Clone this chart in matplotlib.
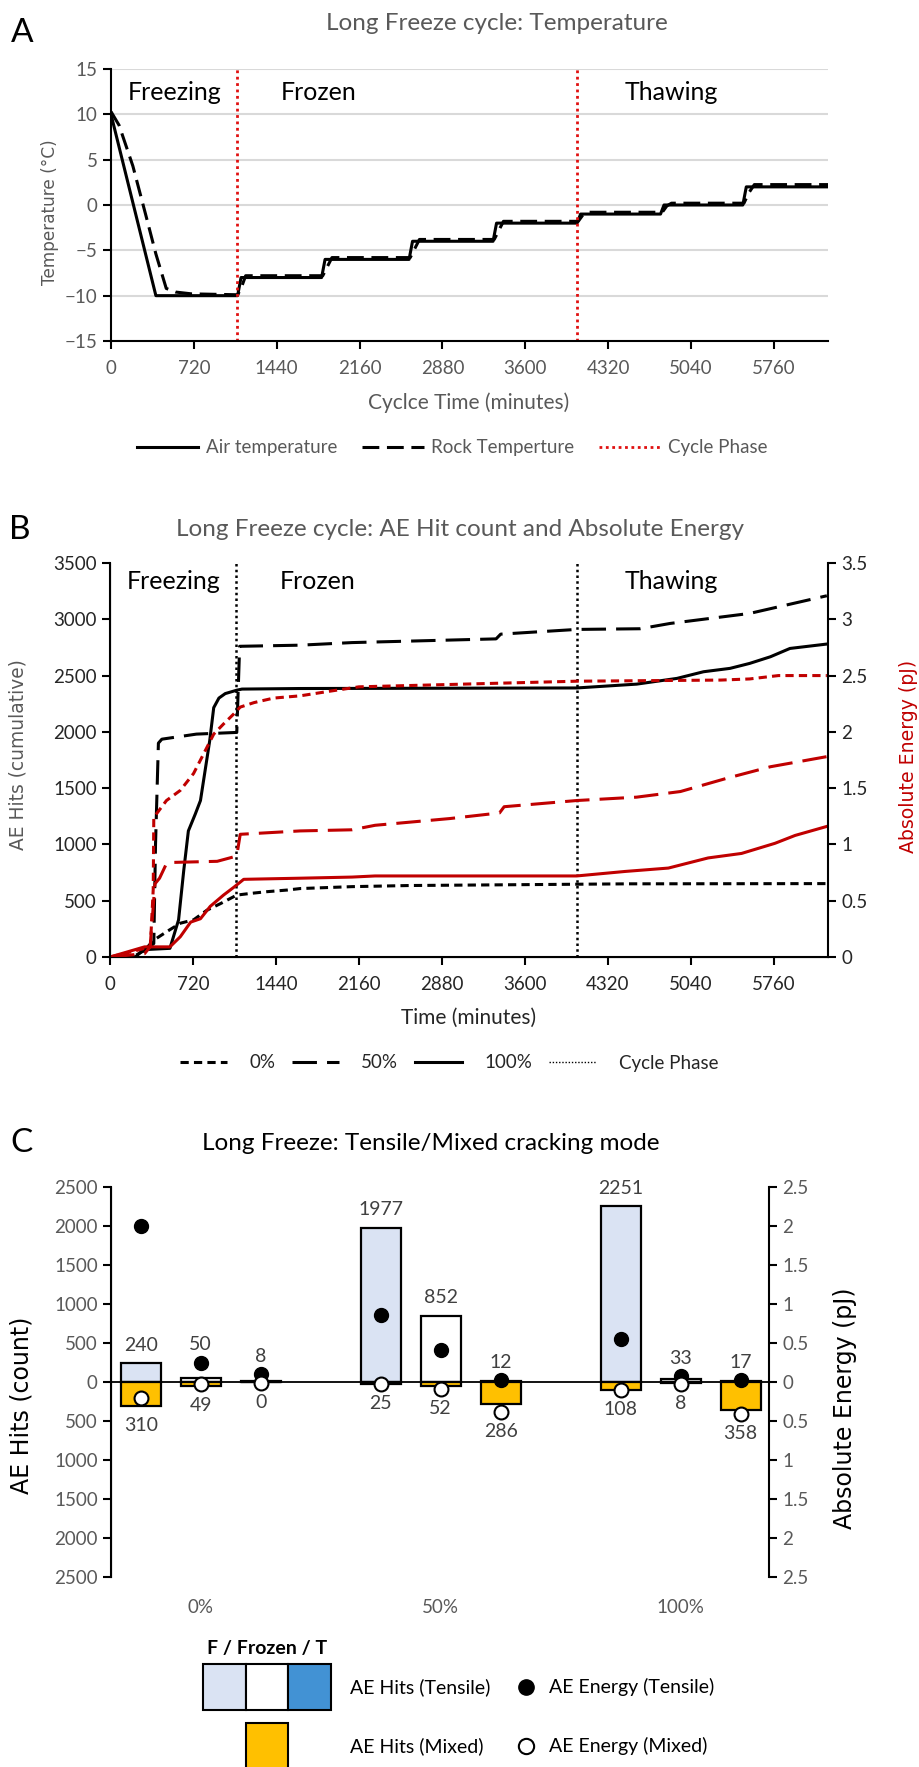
import numpy as np
import matplotlib
matplotlib.use('Agg')
import matplotlib.pyplot as plt
from matplotlib.patches import Rectangle
from matplotlib.lines import Line2D
from matplotlib.ticker import FuncFormatter

plt.rcParams['font.family'] = ['Lato', 'DejaVu Sans']
WIDE = ['DejaVu Sans']
GREY = '#595959'
RED = '#C00000'

# ---------------- panel A: temperature ----------------
air_t = [0, 390, 1100, 1130, 1830, 1860, 2590, 2620, 3320, 3350, 4050, 4080, 4775, 4805, 5490, 5520, 6230]
air_T = [10, -10, -10, -8, -8, -6, -6, -4, -4, -2, -2, -1, -1, 0, 0, 2, 2]
rock_t = [0, 70, 190, 300, 390, 480, 560, 700, 1100, 1130, 1170, 1840, 1880, 1920, 2600, 2640, 2680,
          3330, 3370, 3410, 4060, 4100, 4140, 4790, 4830, 4870, 5500, 5540, 5590, 6230]
rock_T = [10.3, 8.8, 4.3, -1.0, -5.4, -9.2, -9.6, -9.8, -9.9, -9.2, -7.8, -7.8, -6.8, -5.8, -5.8, -4.8, -3.8,
          -3.8, -2.8, -1.8, -1.8, -1.1, -0.8, -0.8, -0.1, 0.2, 0.2, 1.3, 2.25, 2.25]
phase_t = [1095, 4050]
phase_names = ['Freezing', 'Frozen', 'Thawing']
phase_text_t = [556, 1800, 4870]

# ---------------- panel B: AE hits / energy ----------------
hits0_t = [0, 200, 300, 380, 500, 610, 725, 840, 960, 1100, 1220, 1360, 1540, 1650, 2100, 2600, 3500, 4500, 6220]
hits0 = [0, 0, 60, 150, 230, 300, 330, 415, 475, 550, 565, 580, 595, 608, 625, 635, 642, 650, 652]
hits50_t = [0, 250, 380, 395, 420, 450, 750, 1100, 1125, 1650, 2100, 3350, 3390, 4050, 4600, 4860, 5550, 6220]
hits50 = [0, 10, 120, 1000, 1900, 1935, 1980, 1995, 2760, 2770, 2793, 2826, 2868, 2910, 2916, 2963, 3052, 3209]
hits100_t = [0, 220, 290, 520, 595, 640, 680, 740, 785, 825, 865, 900, 945, 1000, 1100, 1145, 1650, 4050,
             4570, 4920, 5150, 5380, 5550, 5730, 5900, 6220]
hits100 = [0, 0, 65, 77, 330, 770, 1120, 1270, 1390, 1655, 1920, 2215, 2300, 2340, 2370, 2380, 2385, 2390,
           2424, 2475, 2534, 2564, 2608, 2667, 2741, 2780]
en0_t = [0, 200, 350, 375, 380, 490, 610, 725, 810, 900, 985, 1075, 1130, 1250, 1420, 1650, 1900, 2160,
         4050, 5300, 5550, 5800, 6220]
en0 = [0, 0.05, 0.09, 0.6, 1.24, 1.39, 1.48, 1.63, 1.80, 1.98, 2.07, 2.16, 2.22, 2.26, 2.30, 2.32, 2.36, 2.40,
       2.45, 2.46, 2.47, 2.50, 2.50]
en50_t = [0, 300, 348, 390, 430, 490, 536, 930, 1075, 1100, 1130, 1650, 2100, 2300, 2950, 3380, 3420, 4050,
          4570, 4950, 5360, 5730, 6220]
en50 = [0, 0.03, 0.09, 0.65, 0.7, 0.83, 0.84, 0.85, 0.89, 0.9, 1.09, 1.12, 1.13, 1.17, 1.23, 1.28, 1.335, 1.39,
        1.42, 1.47, 1.59, 1.69, 1.78]
en100_t = [0, 100, 300, 520, 610, 700, 785, 870, 985, 1075, 1160, 1650, 2100, 2300, 4050, 4470, 4845, 5190,
           5480, 5770, 5945, 6220]
en100 = [0, 0.03, 0.09, 0.09, 0.18, 0.31, 0.34, 0.45, 0.55, 0.62, 0.69, 0.70, 0.71, 0.72, 0.72, 0.76, 0.79, 0.88,
         0.92, 1.01, 1.08, 1.16]

# ---------------- panel C: cracking mode ----------------
cats = ['0%', '50%', '100%']
phases = ['F', 'Frozen', 'T']
tens_hits = [[240, 50, 8], [1977, 852, 12], [2251, 33, 17]]
mixed_hits = [[310, 49, 0], [25, 52, 286], [108, 8, 358]]
tens_en = [[2.0, 0.25, 0.1], [0.855, 0.415, 0.02], [0.545, 0.075, 0.02]]
mixed_en = [[0.2, 0.03, 0.01], [0.03, 0.085, 0.385], [0.1, 0.02, 0.405]]
phase_cols = ['#DAE3F3', '#FFFFFF', '#4292D4']
mixed_col = '#FFC000'

W, H = 919, 1767
fig = plt.figure(figsize=(W / 100, H / 100), dpi=100)


def rect(l, t, r, b):
    return [l / W, 1 - b / H, (r - l) / W, (b - t) / H]


def ftext(x, y, s, **kw):
    fig.text(x / W, 1 - y / H, s, ha=kw.pop('ha', 'center'), va=kw.pop('va', 'center'), **kw)


def style(ax, col):
    for s in ['top', 'right']:
        ax.spines[s].set_visible(False)
    for s in ['left', 'bottom']:
        ax.spines[s].set_linewidth(1.5)
    ax.tick_params(direction='out', length=6, width=1.5, labelsize=13.5, labelcolor=col)


# ---- A ----
axA = fig.add_axes(rect(111, 69, 828, 341))
axA.plot(air_t, air_T, color='black', lw=2.2, label='Air temperature')
axA.plot(rock_t, rock_T, color='black', lw=2.2, dashes=(5.5, 2.5), label='Rock Temperture')
for k, t in enumerate(phase_t):
    axA.axvline(t, color='#E01010', lw=2, ls=(0, (1, 1.3)), label='Cycle Phase' if k == 0 else None)
axA.set_xlim(0, 6230)
axA.set_ylim(-15, 15)
axA.set_xticks(range(0, 6000, 720))
axA.set_yticks(range(-15, 16, 5))
axA.yaxis.grid(True, color='#D9D9D9', lw=1.5)
axA.set_axisbelow(True)
style(axA, GREY)
axA.tick_params(axis='x', pad=8)
for name, t in zip(phase_names, phase_text_t):
    axA.text(t, 12.4, name, fontsize=18, ha='center', va='center')
ftext(497, 24, 'Long Freeze cycle: Temperature', color=GREY, fontsize=17.5)
ftext(22, 33, 'A', fontsize=24)
ftext(469, 403, 'Cyclce Time (minutes)', color=GREY, fontsize=15)
ftext(50, 212, 'Temperature (°C)', color=GREY, fontsize=12.2, rotation=90, family=WIDE)
fig.legend(handles=axA.get_lines()[:3], loc='center', bbox_to_anchor=(452 / W, 1 - 448 / H), ncol=3,
           frameon=False, fontsize=13.5, handlelength=3.3, handletextpad=0.4, columnspacing=1.3, labelcolor=GREY)

# ---- B ----
axB = fig.add_axes(rect(110, 563, 828, 957))
axB2 = axB.twinx()
sd = dict(dashes=(2.7, 1.7))
ld = dict(dashes=(8, 3.3))
axB.plot(hits0_t, hits0, color='black', lw=2.2, **sd)
axB.plot(hits50_t, hits50, color='black', lw=2.2, **ld)
axB.plot(hits100_t, hits100, color='black', lw=2.2)
axB2.plot(en0_t, en0, color=RED, lw=2.2, **sd)
axB2.plot(en50_t, en50, color=RED, lw=2.2, **ld)
axB2.plot(en100_t, en100, color=RED, lw=2.2)
for t in phase_t:
    axB.axvline(t, color='black', lw=1.8, ls=(0, (1, 1.3)))
axB.set_xlim(0, 6230)
axB.set_ylim(0, 3500)
axB2.set_ylim(0, 3.5)
axB.set_xticks(range(0, 6000, 720))
axB.set_yticks(range(0, 3501, 500))
axB2.set_yticks(np.arange(0, 3.51, 0.5))
axB2.yaxis.set_major_formatter(FuncFormatter(lambda v, p: f'{v:g}'))
style(axB, '#262626')
axB.tick_params(axis='x', pad=8)
axB2.spines['top'].set_visible(False)
axB2.spines['right'].set_linewidth(1.5)
axB2.tick_params(direction='out', length=6, width=1.5, labelsize=13.5, labelcolor='#262626')
for name, t in zip(phase_names, phase_text_t):
    axB.text(t, 3340, name, fontsize=18, ha='center', va='center')
ftext(460, 530, 'Long Freeze cycle: AE Hit count and Absolute Energy', color=GREY, fontsize=17.5)
ftext(20, 530, 'B', fontsize=24)
ftext(469, 1018, 'Time (minutes)', color='#262626', fontsize=15)
ftext(18, 755, 'AE Hits (cumulative)', color=GREY, fontsize=13.4, rotation=90, family=WIDE)
ftext(909, 756, 'Absolute Energy (pJ)', color=RED, fontsize=13.6, rotation=90, family=WIDE)
legB = [Line2D([], [], color='black', lw=2.2, **sd), Line2D([], [], color='black', lw=2.2, **ld),
        Line2D([], [], color='black', lw=2.2), Line2D([], [], color='black', lw=1.0, ls=(0, (1, 1.3)))]
fig.legend(handles=legB, labels=['0%', '50%', '100%', 'Cycle Phase'], loc='center',
           bbox_to_anchor=(449 / W, 1 - 1063 / H), ncol=4, frameon=False, fontsize=13.5, handlelength=2.5,
           handletextpad=1.2, columnspacing=0.9, labelcolor='#262626')

# ---- C ----
axC = fig.add_axes(rect(111, 1187, 769, 1577))
axC2 = axC.twinx()
x = np.arange(len(cats))
offs = [-0.25, 0, 0.25]
bw = 0.167
th = np.array(tens_hits)
mh = np.array(mixed_hits)
te = np.array(tens_en)
me = np.array(mixed_en)
for j in range(3):
    axC.bar(x + offs[j], th[:, j], bw, color=phase_cols[j], edgecolor='black', lw=1.6)
    axC.bar(x + offs[j], -mh[:, j], bw, color=mixed_col, edgecolor='black', lw=1.6)
    axC2.plot(x + offs[j], te[:, j], 'o', color='black', ms=10)
    axC2.plot(x + offs[j], -me[:, j], 'o', mfc='white', mec='black', mew=1.5, ms=10)
    for i in range(3):
        top = th[i, j]
        if te[i, j] * 1000 - top < 500:
            top = max(top, te[i, j] * 1000)
        axC.annotate(str(th[i, j]), (x[i] + offs[j], top), xytext=(0, 13), textcoords='offset points',
                     ha='center', va='center', fontsize=14, color='#404040')
        bot = max(mh[i, j], me[i, j] * 1000)
        axC.annotate(str(mh[i, j]), (x[i] + offs[j], -bot), xytext=(0, -14), textcoords='offset points',
                     ha='center', va='center', fontsize=14, color='#404040')
axC.axhline(0, color='black', lw=1.3)
axC.set_xlim(-0.374, 2.368)
axC.set_ylim(-2500, 2500)
axC2.set_ylim(-2.5, 2.5)
axC.set_yticks(range(-2500, 2501, 500))
axC2.set_yticks(np.arange(-2.5, 2.51, 0.5))
axC.yaxis.set_major_formatter(FuncFormatter(lambda v, p: f'{abs(v):.0f}'))
axC2.yaxis.set_major_formatter(FuncFormatter(lambda v, p: f'{abs(round(v, 2)):g}'))
axC.set_xticks(x)
axC.set_xticklabels(cats)
for a in (axC, axC2):
    a.spines['top'].set_visible(False)
    a.spines['bottom'].set_visible(False)
axC.spines['right'].set_visible(False)
axC.spines['left'].set_linewidth(1.5)
axC2.spines['right'].set_linewidth(1.5)
axC.tick_params(axis='y', direction='out', length=6, width=1.5, labelsize=13.5, labelcolor=GREY)
axC.tick_params(axis='x', length=0, pad=16, labelsize=13.5, labelcolor=GREY)
axC2.tick_params(axis='y', direction='out', length=6, width=1.5, labelsize=13.5, labelcolor=GREY)
ftext(431, 1143, 'Long Freeze: Tensile/Mixed cracking mode', color='black', fontsize=17.5)
ftext(22, 1143, 'C', fontsize=24)
ftext(22, 1405, 'AE Hits (count)', color='black', fontsize=17, rotation=90, family=WIDE)
ftext(845, 1408, 'Absolute Energy (pJ)', color='black', fontsize=17, rotation=90, family=WIDE)

# custom legend for panel C
lax = fig.add_axes([0, 0, 1, 1])
lax.set_xlim(0, W)
lax.set_ylim(H, 0)
lax.axis('off')
for j, c in enumerate(phase_cols):
    lax.add_patch(Rectangle((203 + j * 42.7, 1664), 42.7, 46, facecolor=c, edgecolor='black', lw=1.5))
lax.add_patch(Rectangle((245.7, 1723), 42.7, 50, facecolor=mixed_col, edgecolor='black', lw=1.5))
lax.text(267, 1648, 'F / Frozen / T', fontsize=14, fontweight='bold', ha='center', va='center')
lax.text(350, 1687, 'AE Hits (Tensile)', fontsize=14, ha='left', va='center')
lax.text(350, 1746, 'AE Hits (Mixed)', fontsize=14, ha='left', va='center')
lax.plot([526], [1687], 'o', color='black', ms=11)
lax.plot([526], [1746], 'o', mfc='white', mec='black', mew=1.5, ms=11)
lax.text(549, 1687, 'AE Energy (Tensile)', fontsize=14, ha='left', va='center')
lax.text(549, 1746, 'AE Energy (Mixed)', fontsize=14, ha='left', va='center')

fig.savefig('out.png', dpi=100)
